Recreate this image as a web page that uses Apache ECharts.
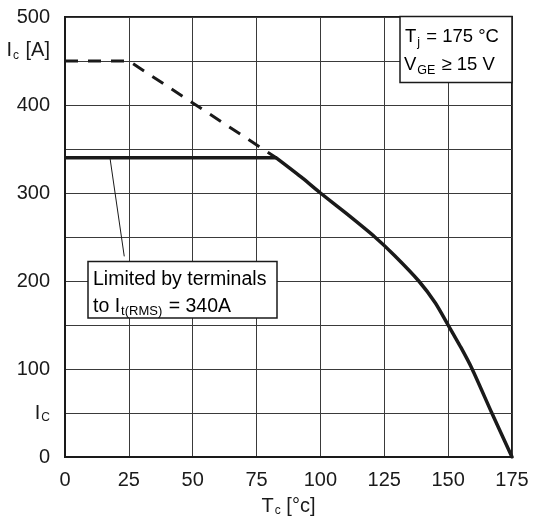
<!DOCTYPE html>
<html><head><meta charset="utf-8">
<script src="https://cdn.jsdelivr.net/npm/echarts@6/dist/echarts.min.js"></script>
<style>html,body{margin:0;padding:0;background:#fff}#c{width:540px;height:522px}</style>
</head><body><div id="c"></div>
<script>
// Data
const limitT = [0, 82.7];
const limitI = [340, 340];
const chipT = [0, 25, 82.7];
const chipI = [450, 450, 340];
const curveT = [82.7, 93, 100, 110, 121.3, 129, 138.5, 145, 150, 155, 159.4, 167.1, 175];
const curveI = [340, 317, 300, 277, 250, 229, 200, 175, 150, 124.5, 100, 50, 0];
const leaderT = [17.6, 23.2];
const leaderI = [340, 228];
const xTickValues = [0, 25, 50, 75, 100, 125, 150, 175];
const yTickValues = [0, 50, 100, 150, 200, 250, 300, 350, 400, 450, 500];
const yTickTexts = ['0', '{m|I}{s|C}', '100', '', '200', '', '300', '', '400', '{u|I}{us|c}{u| [A]}', '500'];
const xTitle = '{m|T}{s|c}{m| [°c]}';
const box1Lines = ['{m|T}{s|j}{m| = 175 °C}', '{m|V}{s|GE}{m| ≥ 15 V}'];
const box2Lines = ['{m|Limited by terminals}', '{m|to I}{s|t(RMS)}{m| = 340A}'];

const FONT = 'Liberation Sans, Arial, Helvetica, sans-serif';
const INK = '#1a1a1a';
const pairs = (a, b) => a.map((v, i) => [v, b[i]]);

const chart = echarts.init(document.getElementById('c'), null, {renderer: 'canvas'});
const richMain = {
  m: {fontSize: 20, fontFamily: FONT, color: INK},
  s: {fontSize: 12, fontFamily: FONT, color: INK, padding: [10, 0, 0, 1]},
  u: {fontSize: 20, fontFamily: FONT, color: INK, padding: [0, 0, 22, 0]},
  us: {fontSize: 12, fontFamily: FONT, color: INK, padding: [0, 1, 10, 1]}
};
const richBox1 = {
  m: {fontSize: 18.5, fontFamily: FONT, color: INK},
  s: {fontSize: 12.5, fontFamily: FONT, color: INK, padding: [11, 1, 0, 1]}
};
const richBox2 = {
  m: {fontSize: 19.5, fontFamily: FONT, color: INK},
  s: {fontSize: 13, fontFamily: FONT, color: INK, padding: [9, 1, 0, 1]}
};

chart.setOption({
  animation: false,
  backgroundColor: '#fff',
  grid: {left: 65, right: 28, top: 17, bottom: 60, show: true, borderColor: INK, borderWidth: 2, backgroundColor: 'transparent'},
  xAxis: {
    type: 'value', min: 0, max: 175, interval: 25,
    axisLine: {show: true, lineStyle: {color: INK, width: 2}},
    axisTick: {show: false},
    axisLabel: {fontSize: 20, fontFamily: FONT, color: INK, margin: 13,
      formatter: v => xTickValues.includes(v) ? String(v) : ''},
    splitLine: {show: true, lineStyle: {color: '#3a3a3a', width: 1}},
    name: xTitle, nameLocation: 'middle', nameGap: 38,
    nameTextStyle: {rich: richMain}
  },
  yAxis: {
    type: 'value', min: 0, max: 500, interval: 50,
    axisLine: {show: true, lineStyle: {color: INK, width: 2}},
    axisTick: {show: false},
    axisLabel: {fontSize: 20, fontFamily: FONT, color: INK, margin: 15,
      formatter: v => { const k = yTickValues.indexOf(v); return k >= 0 ? yTickTexts[k] : ''; },
      rich: richMain},
    splitLine: {show: true, lineStyle: {color: '#3a3a3a', width: 1}}
  },
  series: [
    {type: 'line', data: pairs(leaderT, leaderI), symbol: 'none', lineStyle: {color: INK, width: 1}, z: 3},
    {type: 'line', data: pairs(chipT, chipI), symbol: 'none', lineStyle: {color: INK, width: 3, type: [13, 10]}, z: 4},
    {type: 'line', data: pairs(limitT, limitI), symbol: 'none', lineStyle: {color: INK, width: 3.5}, z: 5},
    {type: 'line', data: pairs(curveT, curveI), symbol: 'none', smooth: 0.2, lineStyle: {color: INK, width: 3.5, cap: 'round', join: 'round'}, z: 5}
  ]
});

const graphics = [
  {type: 'rect', shape: {x: 400, y: 16.5, width: 112, height: 66}, style: {fill: '#fff', stroke: INK, lineWidth: 1.5}, z: 100},
  {type: 'text', x: 405, y: 37, style: {text: box1Lines[0], rich: richBox1, verticalAlign: 'middle', align: 'left'}, z: 101},
  {type: 'text', x: 404, y: 65, style: {text: box1Lines[1], rich: richBox1, verticalAlign: 'middle', align: 'left'}, z: 101},
  {type: 'rect', shape: {x: 88, y: 261.5, width: 189, height: 56.5}, style: {fill: '#fff', stroke: INK, lineWidth: 1.5}, z: 100},
  {type: 'text', x: 93, y: 280, style: {text: box2Lines[0], rich: richBox2, verticalAlign: 'middle', align: 'left'}, z: 101},
  {type: 'text', x: 93, y: 307, style: {text: box2Lines[1], rich: richBox2, verticalAlign: 'middle', align: 'left'}, z: 101}
];
chart.setOption({graphic: graphics});
</script>
</body></html>
